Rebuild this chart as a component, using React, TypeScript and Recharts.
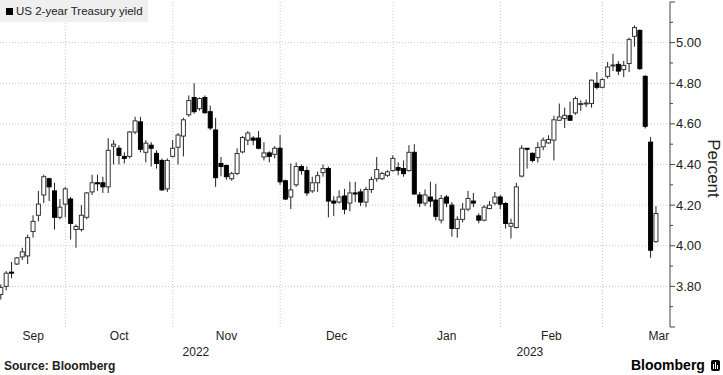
import React from 'react';
import { ComposedChart, Bar, XAxis, YAxis, CartesianGrid } from 'recharts';

// Daily OHLC of the US 2-year Treasury yield (percent), mid-Sep 2022 to mid-Mar 2023
const opens = [
  3.76, 3.80, 3.87, 3.91, 3.945, 3.95, 4.07, 4.15, 4.25, 4.33, 4.27, 4.14,
  4.205, 4.23, 4.08, 4.08, 4.14, 4.265, 4.31, 4.31, 4.29, 4.49, 4.48, 4.44, 4.44, 4.56, 4.61, 4.46, 4.495, 4.455, 4.42, 4.28,
  4.44, 4.485, 4.54, 4.645, 4.73, 4.675, 4.73, 4.66, 4.57, 4.405, 4.395, 4.33, 4.356, 4.462, 4.52, 4.53, 4.53, 4.437, 4.457, 4.45,
  4.48, 4.32, 4.24, 4.30, 4.39, 4.37, 4.27, 4.31, 4.36, 4.38, 4.22, 4.215, 4.245, 4.21, 4.26, 4.265, 4.215, 4.277, 4.33, 4.33, 4.347,
  4.37, 4.385, 4.38, 4.37, 4.46, 4.25, 4.21, 4.24, 4.225, 4.126, 4.24, 4.20, 4.085, 4.13, 4.18, 4.22, 4.147, 4.126,
  4.183, 4.21, 4.24, 4.208, 4.096, 4.09, 4.343, 4.48, 4.455, 4.434, 4.487, 4.506, 4.52, 4.618, 4.626, 4.64, 4.654, 4.695, 4.70, 4.70, 4.80,
  4.78, 4.834, 4.885, 4.893, 4.867, 4.897, 5.031, 5.06, 4.834, 4.51, 4.02,
];
const highs = [
  3.81, 3.875, 3.92, 3.945, 3.99, 4.055, 4.15, 4.27, 4.35, 4.335, 4.31, 4.23,
  4.29, 4.24, 4.105, 4.20, 4.265, 4.35, 4.35, 4.34, 4.53, 4.52, 4.495, 4.46, 4.565, 4.635, 4.635, 4.52, 4.51, 4.47, 4.43, 4.43,
  4.52, 4.555, 4.63, 4.74, 4.80, 4.73, 4.74, 4.69, 4.63, 4.437, 4.40, 4.364, 4.48, 4.54, 4.564, 4.54, 4.565, 4.51, 4.465, 4.49,
  4.545, 4.325, 4.405, 4.41, 4.40, 4.39, 4.34, 4.365, 4.40, 4.39, 4.244, 4.273, 4.28, 4.315, 4.315, 4.28, 4.29, 4.34, 4.437, 4.364, 4.372,
  4.445, 4.41, 4.42, 4.495, 4.50, 4.265, 4.277, 4.315, 4.305, 4.25, 4.25, 4.215, 4.145, 4.21, 4.27, 4.26, 4.16,
  4.20, 4.22, 4.265, 4.25, 4.215, 4.134, 4.31, 4.495, 4.48, 4.46, 4.51, 4.533, 4.544, 4.64, 4.70, 4.68, 4.71, 4.735, 4.716, 4.72, 4.818,
  4.855, 4.825, 4.905, 4.945, 4.91, 4.91, 5.025, 5.085, 5.065, 4.84, 4.535, 4.195,
];
const lows = [
  3.735, 3.78, 3.84, 3.905, 3.93, 3.91, 4.04, 4.12, 4.21, 4.22, 4.08, 4.13,
  4.14, 4.03, 3.99, 4.07, 4.13, 4.25, 4.27, 4.26, 4.26, 4.40, 4.40, 4.405, 4.43, 4.55, 4.46, 4.41, 4.39, 4.38, 4.27, 4.265,
  4.435, 4.40, 4.44, 4.635, 4.65, 4.665, 4.65, 4.57, 4.29, 4.342, 4.325, 4.32, 4.347, 4.455, 4.495, 4.495, 4.475, 4.42, 4.41, 4.43,
  4.30, 4.225, 4.18, 4.29, 4.35, 4.245, 4.26, 4.265, 4.34, 4.14, 4.146, 4.208, 4.155, 4.17, 4.215, 4.195, 4.19, 4.26, 4.315, 4.323, 4.339,
  4.365, 4.347, 4.34, 4.365, 4.25, 4.19, 4.195, 4.19, 4.125, 4.11, 4.19, 4.045, 4.04, 4.115, 4.17, 4.19, 4.11,
  4.12, 4.18, 4.20, 4.18, 4.085, 4.036, 4.085, 4.336, 4.38, 4.41, 4.41, 4.47, 4.503, 4.42, 4.615, 4.58, 4.615, 4.645, 4.664, 4.683, 4.68,
  4.77, 4.775, 4.823, 4.86, 4.84, 4.83, 4.855, 4.98, 4.865, 4.577, 3.94, 4.015,
];
const closes = [
  3.795, 3.865, 3.865, 3.94, 3.97, 4.04, 4.12, 4.205, 4.34, 4.29, 4.14, 4.19,
  4.28, 4.11, 4.095, 4.15, 4.26, 4.31, 4.305, 4.29, 4.47, 4.50, 4.445, 4.43, 4.56, 4.615, 4.475, 4.505, 4.48, 4.405, 4.275, 4.42,
  4.48, 4.545, 4.62, 4.715, 4.66, 4.725, 4.655, 4.58, 4.335, 4.39, 4.34, 4.355, 4.454, 4.533, 4.555, 4.52, 4.48, 4.457, 4.44, 4.48,
  4.315, 4.23, 4.275, 4.39, 4.37, 4.26, 4.31, 4.345, 4.38, 4.22, 4.21, 4.24, 4.18, 4.26, 4.255, 4.215, 4.277, 4.326, 4.375, 4.356, 4.364,
  4.43, 4.372, 4.355, 4.46, 4.255, 4.21, 4.25, 4.22, 4.145, 4.233, 4.21, 4.085, 4.13, 4.18, 4.233, 4.21, 4.126,
  4.19, 4.20, 4.24, 4.205, 4.11, 4.11, 4.29, 4.48, 4.475, 4.42, 4.484, 4.52, 4.523, 4.62, 4.634, 4.642, 4.618, 4.725, 4.70, 4.703, 4.815,
  4.78, 4.818, 4.88, 4.89, 4.86, 4.888, 5.015, 5.074, 4.872, 4.588, 3.978, 4.159,
];

const monthNames = ['Sep', 'Oct', 'Nov', 'Dec', 'Jan', 'Feb', 'Mar'];
const monthStartIdx = [0, 12, 32, 52, 73, 93, 112];
const lastMonthEndIdx = 133;
const yearLabels = ['2022', '2023'];
const yearTickIdx = [36.3, 98.5];
const yTicks = [3.6, 3.7, 3.8, 3.9, 4.0, 4.1, 4.2, 4.3, 4.4, 4.5, 4.6, 4.7, 4.8, 4.9, 5.0, 5.1, 5.2];
const yLabelled = [3.8, 4.0, 4.2, 4.4, 4.6, 4.8, 5.0];

const data = opens.map((o, i) => ({
  i,
  open: o,
  high: highs[i],
  low: lows[i],
  close: closes[i],
  range: [lows[i], highs[i]],
}));

const monthMid = monthStartIdx.map((s, k) => (s + (k + 1 < monthStartIdx.length ? monthStartIdx[k + 1] : lastMonthEndIdx)) / 2);

const FONT = "'Liberation Sans', Arial, sans-serif";

const Candle = (props: any) => {
  let { x, y, width, height, payload } = props;
  if (x == null || y == null || !payload) return null;
  if (height < 0) {
    y = y + height;
    height = -height;
  }
  const { open, close, high, low } = payload;
  const cx = x + width / 2;
  const span = high - low;
  const k = span > 0 ? height / span : 0;
  const top = y + (high - Math.max(open, close)) * k;
  const bot = y + (high - Math.min(open, close)) * k;
  const up = close >= open;
  return (
    <g>
      <line x1={cx} x2={cx} y1={y} y2={y + height} stroke="#222" strokeWidth={1} />
      <rect
        x={cx - 2}
        y={top}
        width={4}
        height={Math.max(bot - top, 1)}
        fill={up ? '#fff' : '#000'}
        stroke={up ? '#333' : '#000'}
        strokeWidth={1}
      />
    </g>
  );
};

const YTick = (props: any) => {
  const { x, y, payload } = props;
  const v = payload.value;
  const labelled = yLabelled.some((t) => Math.abs(t - v) < 1e-6);
  const major = Math.round(v * 10) % 2 === 0;
  return (
    <g>
      <line x1={x} x2={x + (major ? 5 : 3)} y1={y} y2={y} stroke="#444" strokeWidth={1} />
      {labelled && (
        <text x={x + 6} y={y} dominantBaseline="central" textAnchor="start" fontSize={13} fill="#222" fontFamily={FONT}>
          {v.toFixed(2)}
        </text>
      )}
    </g>
  );
};

const MonthTick = (props: any) => {
  const { x, y, index } = props;
  return (
    <text x={x} y={y} dy="0.71em" textAnchor="middle" fontSize={12} fill="#222" fontFamily={FONT}>
      {monthNames[index]}
    </text>
  );
};

const YearTick = (props: any) => {
  const { x, y, index } = props;
  return (
    <text x={x} y={y} dy="0.71em" textAnchor="middle" fontSize={12} fill="#222" fontFamily={FONT}>
      {yearLabels[index]}
    </text>
  );
};

const gridV = monthStartIdx.slice(1);

export default function App() {
  return (
    <div style={{ position: 'absolute', left: 0, top: 0, width: 723, height: 375, background: '#fff', fontFamily: FONT }}>
      <ComposedChart width={723} height={375} data={data} margin={{ top: 2, right: 0, bottom: 16, left: 0 }}>
        <CartesianGrid
          stroke="#c8c8c8"
          strokeDasharray="1 2"
          horizontalValues={yLabelled}
          verticalValues={gridV}
        />
        <XAxis
          dataKey="i"
          type="number"
          domain={[-0.186, 124.58]}
          allowDataOverflow
          ticks={monthMid}
          interval={0}
          tick={<MonthTick />}
          tickLine={false}
          axisLine={false}
          tickSize={0}
          tickMargin={4}
          height={16}
        />
        <XAxis
          xAxisId="yr"
          dataKey="i"
          type="number"
          domain={[-0.186, 124.58]}
          allowDataOverflow
          ticks={yearTickIdx}
          interval={0}
          tick={<YearTick />}
          tickLine={false}
          axisLine={false}
          tickSize={0}
          tickMargin={4}
          height={16}
        />
        <YAxis
          orientation="right"
          type="number"
          domain={[3.6, 5.2]}
          allowDataOverflow
          ticks={yTicks}
          interval={0}
          width={53}
          tick={<YTick />}
          tickLine={false}
          tickSize={0}
          tickMargin={0}
          axisLine={{ stroke: '#444', strokeWidth: 1 }}
          label={{
            content: (p: any) => {
              const vb = p.viewBox || { x: 670, y: 2, width: 53, height: 325 };
              const cx = vb.x + 43;
              const cy = vb.y + vb.height / 2 + 4;
              return (
                <text
                  x={cx}
                  y={cy}
                  transform={`rotate(90 ${cx} ${cy})`}
                  textAnchor="middle"
                  dominantBaseline="central"
                  fontSize={17}
                  fill="#222"
                  fontFamily={FONT}
                >
                  Percent
                </text>
              );
            },
          }}
        />
        <Bar dataKey="range" barSize={5} shape={<Candle />} isAnimationActive={false} />
      </ComposedChart>

      <div style={{ position: 'absolute', left: 0, top: 0, width: 148, height: 22, background: '#efefef', display: 'flex', alignItems: 'center' }}>
        <div style={{ width: 7, height: 7, background: '#000', marginLeft: 6, marginRight: 3 }} />
        <span style={{ fontSize: 11.5, color: '#222', whiteSpace: 'nowrap' }}>US 2-year Treasury yield</span>
      </div>

      <div style={{ position: 'absolute', left: 4, top: 359, fontSize: 12, fontWeight: 'bold', color: '#222', whiteSpace: 'nowrap' }}>
        Source: Bloomberg
      </div>
      <div style={{ position: 'absolute', left: 631, top: 357, fontSize: 14, fontWeight: 'bold', color: '#000', whiteSpace: 'nowrap', display: 'flex', alignItems: 'center' }}>
        <span>Bloomberg</span>
        <span style={{ display: 'inline-block', width: 9, height: 11, background: '#000', borderRadius: 2, marginLeft: 6, position: 'relative' }}>
          <span style={{ position: 'absolute', left: 2, top: 4, width: 1, height: 5, background: '#fff' }} />
          <span style={{ position: 'absolute', left: 4, top: 2, width: 1, height: 7, background: '#fff' }} />
          <span style={{ position: 'absolute', left: 6, top: 5, width: 1, height: 4, background: '#fff' }} />
        </span>
      </div>
    </div>
  );
}
